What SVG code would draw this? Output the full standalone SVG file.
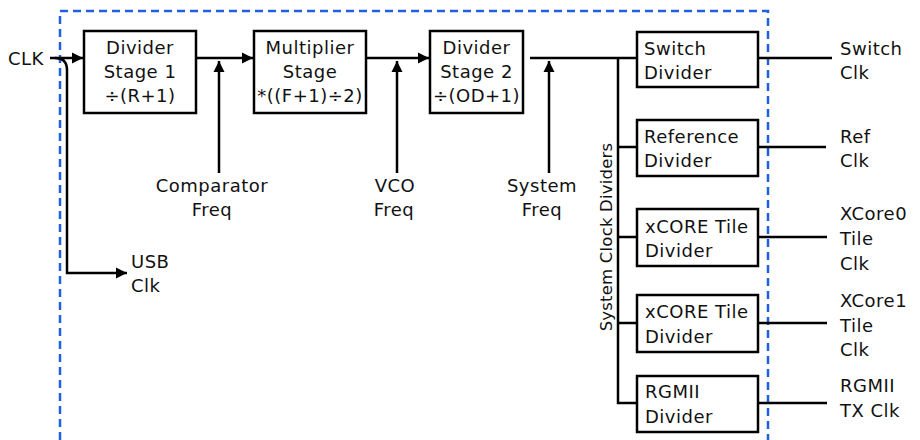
<svg xmlns="http://www.w3.org/2000/svg" width="920" height="440" viewBox="0 0 920 440">
<defs>
<style>
text{font-family:"DejaVu Sans","Liberation Sans",sans-serif;font-size:18px;letter-spacing:0.5px;fill:#111}
.c{text-anchor:middle}
.box{fill:#fff;stroke:#000;stroke-width:2.5}
.ln{fill:none;stroke:#000;stroke-width:2.5}
.ar{marker-end:url(#ah)}
.dash{fill:none;stroke:#1f5fe0;stroke-width:2.5;stroke-dasharray:8 5}
.rot{font-size:16.5px;letter-spacing:0.2px}
</style>
<marker id="ah" markerUnits="userSpaceOnUse" markerWidth="12" markerHeight="12" refX="11" refY="6" orient="auto">
<path d="M0,0.5 L11,6 L0,11.5 z" fill="#000"/>
</marker>
</defs>
<rect width="920" height="440" fill="#fff"/>
<path class="dash" d="M60,440 L60,11 L768,11 L768,440"/>
<g id="connectors">
<path class="ln ar" d="M50,58 L83,58"/>
<path class="ln ar" d="M55,58 Q67,58 67,70 L67,273 L127,273"/>
<path class="ln ar" d="M197,58 L253,58"/>
<path class="ln ar" d="M219,173 L219,61"/>
<path class="ln ar" d="M367,58 L429,58"/>
<path class="ln ar" d="M397,173 L397,61"/>
<path class="ln" d="M530,58 L636,58"/>
<path class="ln ar" d="M549,173 L549,61"/>
<path class="ln" d="M618,58 L618,403 L636,403"/>
<path class="ln" d="M618,147 L636,147 M618,237 L636,237 M618,323 L636,323"/>
<path class="ln" d="M759,58 L832,58 M759,147 L826,147 M759,237 L827,237 M759,323 L827,323 M759,403 L827,403"/>
</g>
<g id="clk"><text x="8" y="65">CLK</text></g>
<g id="div1">
<rect class="box" x="84" y="31" width="112" height="82"/>
<text class="c" x="140" y="54">Divider</text>
<text class="c" x="140" y="78">Stage 1</text>
<text class="c" x="140" y="102">÷(R+1)</text>
</g>
<g id="mult">
<rect class="box" x="254" y="31" width="112" height="82"/>
<text class="c" x="310" y="54">Multiplier</text>
<text class="c" x="310" y="78">Stage</text>
<text class="c" x="310" y="102">*((F+1)÷2)</text>
</g>
<g id="div2">
<rect class="box" x="430" y="31" width="93" height="82"/>
<text class="c" x="476.5" y="54">Divider</text>
<text class="c" x="476.5" y="78">Stage 2</text>
<text class="c" x="476.5" y="102">÷(OD+1)</text>
</g>
<g id="comp"><text class="c" x="212" y="192">Comparator</text><text class="c" x="212" y="216">Freq</text></g>
<g id="vco"><text class="c" x="395" y="192">VCO</text><text class="c" x="394" y="216">Freq</text></g>
<g id="sys"><text class="c" x="542" y="192">System</text><text class="c" x="542" y="216">Freq</text></g>
<g id="usb"><text x="131" y="268">USB</text><text x="131" y="292">Clk</text></g>
<g id="busLabel"><text class="c rot" transform="translate(612,237) rotate(-90)">System Clock Dividers</text></g>
<g id="switchDiv">
<rect class="box" x="637" y="32" width="121" height="55"/>
<text x="644" y="55">Switch</text><text x="644" y="79">Divider</text>
</g>
<g id="refDiv">
<rect class="box" x="637" y="120" width="121" height="56"/>
<text x="644" y="143">Reference</text><text x="644" y="167">Divider</text>
</g>
<g id="tile0Div">
<rect class="box" x="637" y="209" width="121" height="57"/>
<text x="645" y="233">xCORE Tile</text><text x="645" y="257">Divider</text>
</g>
<g id="tile1Div">
<rect class="box" x="637" y="295" width="121" height="57"/>
<text x="645" y="318">xCORE Tile</text><text x="645" y="343">Divider</text>
</g>
<g id="rgmiiDiv">
<rect class="box" x="637" y="376" width="121" height="56"/>
<text x="645" y="398">RGMII</text><text x="645" y="423">Divider</text>
</g>
<g id="outSwitch"><text x="840" y="55">Switch</text><text x="840" y="79">Clk</text></g>
<g id="outRef"><text x="840" y="143">Ref</text><text x="840" y="167">Clk</text></g>
<g id="outX0"><text x="840" y="220">XCore0</text><text x="840" y="245">Tile</text><text x="840" y="270">Clk</text></g>
<g id="outX1"><text x="840" y="307">XCore1</text><text x="840" y="332">Tile</text><text x="840" y="356">Clk</text></g>
<g id="outRG"><text x="840" y="392">RGMII</text><text x="840" y="417">TX Clk</text></g>
</svg>
